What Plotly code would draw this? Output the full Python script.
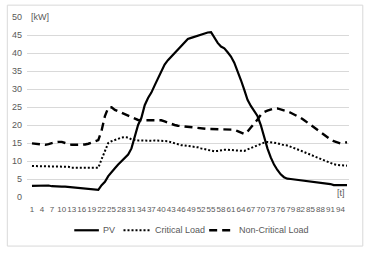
import plotly.graph_objects as go

t = list(range(1, 97))
tick_labels = [str(v) for v in range(1, 97, 3)]

pv = [3.1, 3.1, 3.1, 3.2, 3.3, 3.2, 3.0, 2.9, 2.9, 2.9, 2.9, 2.8, 2.8, 2.8, 2.7, 2.6,
      2.5, 2.4, 2.3, 2.2, 2.0, 3.3, 4.2, 5.8, 7.0, 8.0, 9.0, 10.0, 11.0, 11.8, 13.5, 16.5,
      20.0, 22.0, 25.5, 27.5, 29.0, 31.0, 33.0, 35.0, 36.8, 38.0, 39.0, 40.0, 41.0, 42.0, 43.0, 43.9,
      44.2, 44.5, 45.0, 45.3, 45.5, 45.7, 45.8, 44.3, 42.8, 41.8, 41.3, 40.2, 39.0, 37.3, 35.0, 32.5,
      29.8, 27.0, 25.3, 24.0, 22.5, 20.0, 16.5, 13.5, 11.0, 9.0, 7.5, 6.3, 5.5, 5.1, 5.0, 4.9,
      4.8, 4.6, 4.5, 4.3, 4.2, 4.1, 4.0, 3.9, 3.8, 3.7, 3.6, 3.3, 3.3, 3.3, 3.3, 3.3]

critical = [8.6, 8.6, 8.6, 8.6, 8.6, 8.6, 8.6, 8.6, 8.6, 8.6, 8.6, 8.4, 8.1, 8.1, 8.1, 8.1,
            8.1, 8.1, 8.1, 8.1, 8.1, 10.5, 13.0, 15.0, 15.5, 15.9, 16.2, 16.5, 16.6, 16.5, 16.0, 15.8,
            15.7, 15.7, 15.6, 15.6, 15.6, 15.7, 15.7, 15.7, 15.6, 15.5, 15.2, 14.9, 14.6, 14.4, 14.3, 14.2,
            14.0, 13.9, 13.8, 13.5, 13.3, 13.1, 12.9, 12.7, 12.8, 13.0, 13.1, 13.1, 13.0, 12.9, 12.8, 12.7,
            12.8, 13.2, 13.6, 14.0, 14.4, 14.8, 15.1, 15.3, 15.3, 15.1, 14.9, 14.6, 14.4, 14.3, 14.0, 13.7,
            13.3, 12.9, 12.5, 12.1, 11.7, 11.3, 11.0, 10.7, 10.2, 9.8, 9.4, 9.1, 8.9, 8.8, 8.7, 8.7]

non_critical = [14.9, 14.8, 14.6, 14.5, 14.5, 14.7, 15.0, 15.2, 15.3, 15.3, 15.0, 14.7, 14.5, 14.5, 14.5, 14.5,
                14.6, 14.8, 15.2, 15.6, 15.8, 18.5, 22.5, 24.8, 24.9, 24.2, 23.8, 23.2, 22.8, 22.5, 22.2, 21.8,
                21.4, 21.3, 21.3, 21.3, 21.4, 21.5, 21.5, 21.3, 21.0, 20.6, 20.3, 20.0, 19.8, 19.7, 19.5, 19.4,
                19.3, 19.2, 19.0, 18.9, 18.9, 18.9, 18.9, 18.9, 18.9, 18.9, 18.9, 18.9, 18.9, 18.7, 18.3, 17.8,
                17.5, 18.2, 19.2, 20.3, 21.5, 22.8, 23.6, 24.0, 24.4, 24.6, 24.6, 24.4, 24.1, 23.8, 23.4, 23.0,
                22.5, 22.0, 21.4, 20.7, 20.0, 19.3, 18.6, 17.9, 17.2, 16.5, 16.0, 15.5, 15.1, 14.9, 15.0, 15.2]

series_names = ["PV", "Critical Load", "Non-Critical Load"]

FONT = "Liberation Sans Narrow, Liberation Sans, Arial"
GRAY = "#595959"
GRID = "#d9d9d9"

styles = [dict(color="black", width=2.2),
          dict(color="black", width=2, dash="2px,2px"),
          dict(color="black", width=2.4, dash="8px,5px")]

fig = go.Figure()
for name, vals, st in zip(series_names, [pv, critical, non_critical], styles):
    fig.add_trace(go.Scatter(x=t, y=vals, mode="lines", name=name, line=st, showlegend=False))

# plot area: x 22..349, y 15..197.3
L, R, T, B = 22, 349, 15, 197.3
W, H = 365, 261
pw, ph = R - L, B - T

def px(x):
    return (x - L) / pw

def py(y):
    return (B - y) / ph

shapes = [
    dict(type="rect", xref="paper", yref="paper", x0=px(2), x1=px(363), y0=py(247), y1=py(3),
         line=dict(color=GRID, width=1), fillcolor="rgba(0,0,0,0)", layer="below"),
    dict(type="rect", xref="paper", yref="paper", x0=px(22), x1=px(57), y0=py(20), y1=py(10),
         line=dict(width=0), fillcolor="white", layer="between"),
]
annotations = [
    dict(text="[kW]", xref="paper", yref="paper", x=px(24), y=py(15), xanchor="left",
         yanchor="middle", showarrow=False, font=dict(family=FONT, size=9, color=GRAY)),
    dict(text="[t]", xref="paper", yref="paper", x=px(341), y=py(193), xanchor="center",
         yanchor="middle", showarrow=False, font=dict(family=FONT, size=9, color=GRAY)),
]

# manual legend
leg_y = 231
leg_lines = [(70, 95), (120, 148), (207, 232)]
leg_text_x = [97, 150, 235]
for (x0, x1), tx, name, st in zip(leg_lines, leg_text_x, series_names, styles):
    shapes.append(dict(type="line", xref="paper", yref="paper", x0=px(x0), x1=px(x1),
                       y0=py(leg_y), y1=py(leg_y), line=st))
    annotations.append(dict(text=name, xref="paper", yref="paper", x=px(tx), y=py(leg_y),
                            xanchor="left", yanchor="middle", showarrow=False,
                            font=dict(family=FONT, size=9, color=GRAY)))

fig.update_layout(
    width=W, height=H,
    margin=dict(l=L, r=W - R, t=T, b=H - B, pad=0),
    paper_bgcolor="white", plot_bgcolor="white",
    font=dict(family=FONT, size=9, color=GRAY),
    showlegend=False,
    xaxis=dict(range=[-0.5, 96.6], tickmode="array", tickvals=list(range(1, 97, 3)),
               ticktext=tick_labels, showgrid=False, zeroline=False, showline=False,
               ticks="", tickfont=dict(family=FONT, size=8, color=GRAY), ticklabelstandoff=6,
               tickangle=0),
    yaxis=dict(range=[0, 50], tickmode="array", tickvals=list(range(0, 51, 5)),
               showgrid=True, gridcolor=GRID, gridwidth=1, zeroline=False, showline=False,
               ticks="", tickfont=dict(family=FONT, size=9, color=GRAY), ticklabelstandoff=4),
    shapes=shapes,
    annotations=annotations,
)

fig.write_html("out.html")
